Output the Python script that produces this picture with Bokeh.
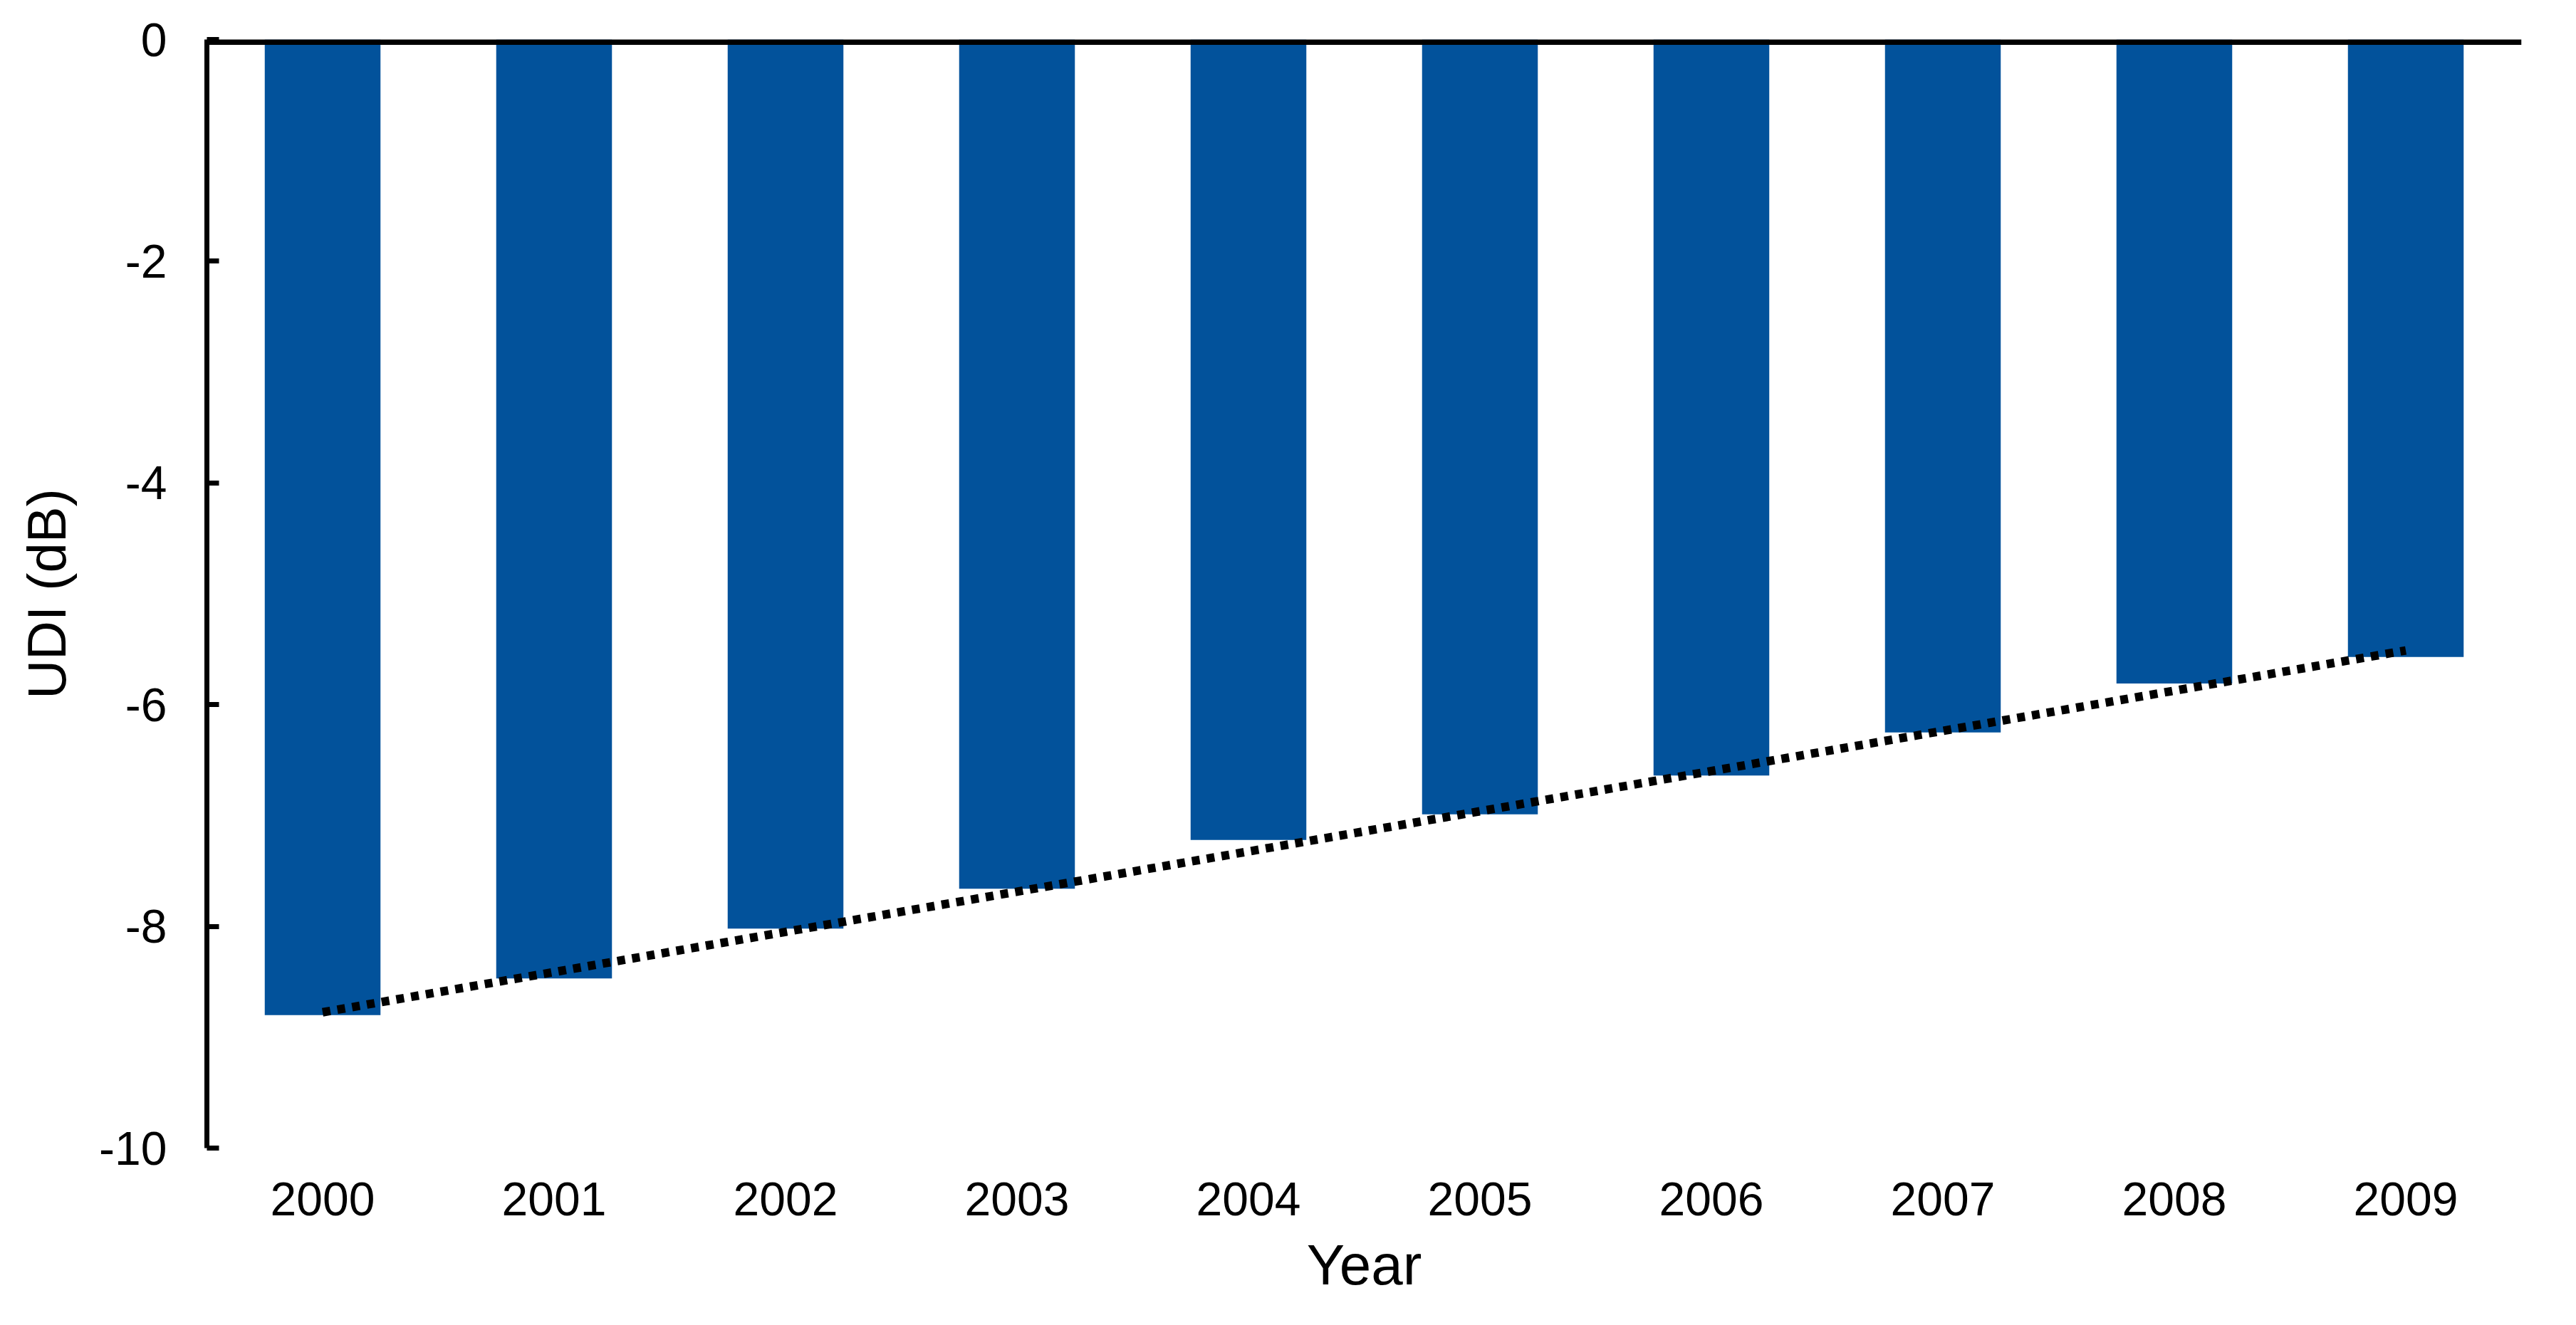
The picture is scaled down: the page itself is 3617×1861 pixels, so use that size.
import numpy as np
from bokeh.plotting import figure
from bokeh.models import Range1d, FixedTicker, Span, PrintfTickFormatter
from bokeh.embed import file_html
from bokeh.resources import INLINE

# values (UDI in dB per year)
years = ["2000", "2001", "2002", "2003", "2004", "2005", "2006", "2007", "2008", "2009"]
udi = [-8.80, -8.47, -8.02, -7.66, -7.22, -6.99, -6.64, -6.25, -5.81, -5.57]
y_ticks = [-10, -8, -6, -4, -2, 0]

bar_color = "#02529B"
font = "Liberation Sans"

p = figure(x_range=years, y_range=Range1d(-10, 0), width=3600, height=1842,
           output_backend="svg", toolbar_location=None,
           min_border_left=290, min_border_right=60, min_border_top=55,
           min_border_bottom=230)
p.outline_line_color = None
p.grid.visible = False
p.background_fill_color = "white"

p.vbar(x=years, top=0, bottom=udi, width=0.5, fill_color=bar_color, line_color=None)

# linear trendline through the bars
idx = np.arange(len(udi))
slope, icpt = np.polyfit(idx, udi, 1)
trend = list(slope * idx + icpt)
p.line(x=years, y=trend, line_color="black", line_width=12, line_dash="11 10")

# horizontal axis line at y = 0 (top of the plot); half of it is clipped
p.add_layout(Span(location=0, dimension="width", line_color="black", line_width=15))

# y axis: ticks on the inside
ya = p.yaxis[0]
ya.ticker = FixedTicker(ticks=y_ticks)
ya.formatter = PrintfTickFormatter(format="%d")
ya.axis_line_width = 7
ya.major_tick_line_width = 7
ya.major_tick_in = 17
ya.major_tick_out = 0
ya.minor_tick_line_color = None
ya.major_label_text_font = font
ya.major_label_text_font_size = "66px"
ya.major_label_text_color = "black"
ya.major_label_standoff = 56
ya.axis_label = "UDI (dB)"
ya.axis_label_text_font = font
ya.axis_label_text_font_size = "76px"
ya.axis_label_text_font_style = "normal"
ya.axis_label_text_color = "black"
ya.axis_label_standoff = 28

# x labels sit below the plot, no line there
xa = p.xaxis[0]
xa.axis_line_color = None
xa.major_tick_line_color = None
xa.minor_tick_line_color = None
xa.major_label_text_font = font
xa.major_label_text_font_size = "66px"
xa.major_label_text_color = "black"
xa.major_label_standoff = 42
xa.axis_label = "Year"
xa.axis_label_text_font = font
xa.axis_label_text_font_size = "80px"
xa.axis_label_text_font_style = "normal"
xa.axis_label_text_color = "black"
xa.axis_label_standoff = 22

open("out.html", "w").write(file_html(p, INLINE))
